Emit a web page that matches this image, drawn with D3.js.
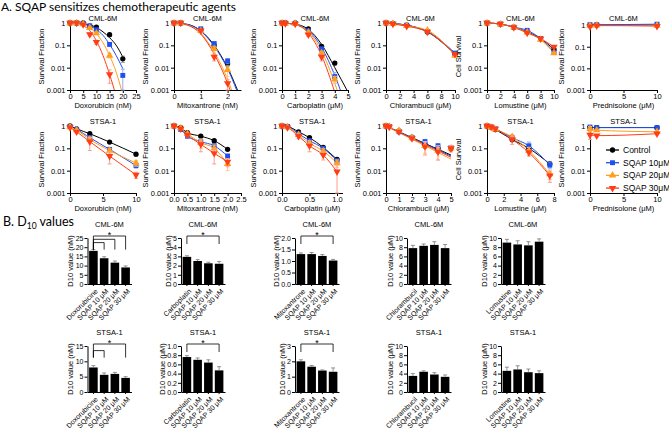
<!DOCTYPE html>
<html>
<head>
<meta charset="utf-8">
<script src="https://cdn.jsdelivr.net/npm/d3@7"></script>
<style>
body { margin: 0; background: #fff; }
svg text { font-family: "Liberation Sans", Arial, sans-serif; fill: #000; }
</style>
</head>
<body>
<svg id="fig" width="669" height="434"></svg>
<script>
// ---- series shared by the survival plots
var seriesNames = ["Control", "SQAP 10μM", "SQAP 20μM", "SQAP 30μM"];

// ---- CML-6M survival fractions (rows: Control, SQAP 10, 20, 30)
var doxCmlDose = [0, 2.5, 5, 7.5, 10, 15, 20];
var doxCmlSurv = [
    [1, 1, 1, 0.72, 0.66, 0.3, 0.025],
    [1, 1, 0.95, 0.75, 0.5, 0.11, 0.0045],
    [1, 1, 0.9, 0.6, 0.35, 0.035, null],
    [1, 1, 0.85, 0.31, 0.14, 0.005, null]];
var doxCmlErr = [
    [0, 0, 0, 0.08, 0.08, 0.05, 0.008],
    [0, 0, 0, 0.05, 0.05, 0.02, 0.004],
    [0, 0, 0, 0.05, 0.05, 0.008, 0],
    [0, 0, 0, 0.05, 0.03, 0.003, 0]];
var doxCmlFitDose = [0, 2.5, 5, 7.5, 10, 12.5, 15, 17.5, 20];
var doxCmlFit = [
    [1, 0.98, 0.93, 0.81, 0.63, 0.4, 0.22, 0.1, 0.03],
    [1, 0.97, 0.89, 0.74, 0.5, 0.28, 0.11, 0.035, 0.009],
    [1, 0.95, 0.85, 0.63, 0.33, 0.13, 0.035, 0.0063, 0.0006],
    [1, 0.93, 0.76, 0.45, 0.16, 0.035, 0.005, 0.0005, 0.00003]];

var mitoCmlDose = [0, 0.25, 1, 1.5, 2];
var mitoCmlSurv = [
    [1, 1, 0.5, 0.1, 0.015],
    [1, 1, 0.55, 0.12, 0.02],
    [1, 1, 0.45, 0.07, 0.008],
    [1, 1, 0.45, 0.03, 0.002]];
var mitoCmlErr = [
    [0, 0, 0.05, 0.02, 0.004],
    [0, 0, 0.05, 0.02, 0.005],
    [0, 0, 0.05, 0.02, 0.004],
    [0, 0, 0.05, 0.01, 0.001]];
var mitoCmlFitDose = [0, 0.5, 1, 1.5, 2, 2.5];
var mitoCmlFit = [
    [1, 0.87, 0.45, 0.1, 0.01, 0.0004],
    [1, 0.86, 0.43, 0.09, 0.009, 0.0003],
    [1, 0.82, 0.35, 0.05, 0.003, 0.00005],
    [1, 0.8, 0.32, 0.04, 0.002, 0.00003]];

var carboCmlDose = [0, 0.25, 1, 2, 3, 4];
var carboCmlSurv = [
    [1, 1, 1, 0.55, 0.09, 0.016],
    [1, 1, 0.95, 0.45, 0.07, 0.004],
    [1, 0.95, 0.95, 0.38, 0.045, 0.003],
    [1, 0.95, 0.9, 0.3, 0.03, null]];
var carboCmlErr = [
    [0, 0, 0, 0.05, 0.01, 0.003],
    [0, 0, 0, 0.05, 0.01, 0.002],
    [0, 0, 0, 0.05, 0.01, 0.001],
    [0, 0, 0, 0.05, 0.01, 0]];
var carboCmlFitDose = [0, 1, 2, 3, 4, 5];
var carboCmlFit = [
    [1, 0.89, 0.52, 0.11, 0.01, 0.0008],
    [1, 0.87, 0.45, 0.08, 0.0045, 0.0001],
    [1, 0.86, 0.4, 0.055, 0.002, 0.00003],
    [1, 0.85, 0.35, 0.035, 0.0008, 0.00001]];

var chlorCmlDose = [0, 1, 3, 6, 10];
var chlorCmlSurv = [
    [1, 0.95, 0.8, 0.4, 0.04],
    [1, 0.95, 0.8, 0.42, 0.045],
    [1, 0.95, 0.75, 0.47, 0.035],
    [1, 0.9, 0.72, 0.4, 0.04]];

var lomuCmlDose = [0, 2, 4, 6, 8, 10];
var lomuCmlSurv = [
    [1, 0.9, 0.65, 0.4, 0.2, 0.065],
    [1, 0.9, 0.65, 0.47, 0.2, 0.05],
    [1, 0.88, 0.65, 0.38, 0.18, 0.045],
    [1, 0.9, 0.63, 0.36, 0.2, 0.085]];

var predCmlDose = [0, 1, 10];
var predCmlSurv = [
    [1, 1, 1],
    [1.05, 1.05, 1.1],
    [0.95, 0.97, 0.95],
    [0.85, 0.95, 0.9]];

// ---- STSA-1 survival fractions
var doxStDose = [0, 1, 3, 6, 10];
var doxStSurv = [
    [1, 0.75, 0.45, 0.19, 0.055],
    [0.95, 0.7, 0.3, 0.09, 0.017],
    [0.9, 0.65, 0.25, 0.08, 0.022],
    [0.85, 0.55, 0.2, 0.045, 0.0065]];
var doxStErr = [
    [0, 0.05, 0.05, 0.02, 0.01],
    [0, 0.05, 0.05, 0.01, 0.004],
    [0, 0.05, 0.06, 0.02, 0.006],
    [0, 0.08, 0.12, 0.025, 0.002]];

var mitoStDose = [0, 0.25, 0.5, 1, 1.5, 2];
var mitoStSurv = [
    [1, 0.85, 0.5, 0.35, 0.22, 0.09],
    [1, 0.7, 0.35, 0.2, 0.13, 0.045],
    [1, 0.8, 0.45, 0.18, 0.1, 0.02],
    [1, 0.75, 0.4, 0.15, 0.06, 0.025]];
var mitoStErr = [
    [0, 0.05, 0.05, 0.05, 0.03, 0.01],
    [0, 0.05, 0.05, 0.05, 0.03, 0.01],
    [0, 0.05, 0.08, 0.08, 0.04, 0.01],
    [0, 0.05, 0.08, 0.08, 0.04, 0.01]];

var carboStDose = [0, 0.1, 0.3, 0.5, 0.75, 1];
var carboStSurv = [
    [1, 0.95, 0.55, 0.3, 0.11, 0.032],
    [1, 0.95, 0.45, 0.22, 0.1, 0.028],
    [1, 0.9, 0.4, 0.17, 0.075, 0.022],
    [1, 0.85, 0.35, 0.13, 0.05, 0.009]];
var carboStErr = [
    [0, 0, 0.05, 0.03, 0.01, 0.004],
    [0, 0, 0.05, 0.03, 0.01, 0.004],
    [0, 0.05, 0.05, 0.05, 0.02, 0.008],
    [0, 0.05, 0.08, 0.06, 0.02, 0.009]];

var chlorStDose = [0, 0.25, 1, 2, 3, 4, 5];
var chlorStSurv = [
    [1, 0.95, 0.6, 0.32, 0.15, 0.1, 0.1],
    [1, 0.95, 0.55, 0.3, 0.2, 0.13, 0.11],
    [1, 0.95, 0.62, 0.3, 0.13, 0.08, 0.1],
    [1, 0.9, 0.55, 0.28, 0.12, 0.07, 0.1]];
var chlorStErr = [
    [0, 0, 0.05, 0.05, 0.05, 0.04, 0.02],
    [0, 0, 0.05, 0.05, 0.05, 0.03, 0.02],
    [0, 0, 0.05, 0.05, 0.07, 0.05, 0.03],
    [0, 0, 0.05, 0.05, 0.07, 0.04, 0.03]];
var chlorStFitDose = [0, 5];
var chlorStFit = [
    [1, 0.05],
    [1, 0.045],
    [1, 0.033],
    [1, 0.04]];

var lomuStDose = [0, 0.5, 1, 3, 5, 7.5];
var lomuStSurv = [
    [1, 0.9, 0.7, 0.25, 0.1, 0.02],
    [1, 0.9, 0.75, 0.3, 0.13, 0.018],
    [1, 0.85, 0.7, 0.33, 0.08, 0.007],
    [1, 0.9, 0.75, 0.25, 0.065, 0.006]];
var lomuStErr = [
    [0, 0, 0.05, 0.05, 0.02, 0.006],
    [0, 0, 0.05, 0.08, 0.06, 0.006],
    [0, 0, 0.05, 0.08, 0.03, 0.003],
    [0, 0, 0.05, 0.1, 0.02, 0.003]];

var predStDose = [0, 1, 10];
var predStSurv = [
    [0.85, 0.85, 0.85],
    [0.9, 0.85, 0.85],
    [0.75, 0.65, 0.55],
    [0.4, 0.37, 0.45]];
var predStErr = [
    [0, 0, 0],
    [0.1, 0, 0.05],
    [0.2, 0.05, 0.05],
    [0.15, 0.05, 0.05]];

// ---- D10 values (bars)
var sqapCats = ["SQAP 10 μM", "SQAP 20 μM", "SQAP 30 μM"];
var d10DoxCml = [18, 14, 11.6, 9];
var d10DoxCmlErr = [0.7, 0.8, 0.9, 0.8];
var d10CarboCml = [2.95, 2.5, 2.25, 2.2];
var d10CarboCmlErr = [0.12, 0.15, 0.12, 0.25];
var d10MitoCml = [1.3, 1.3, 1.22, 1.02];
var d10MitoCmlErr = [0.05, 0.07, 0.06, 0.05];
var d10ChlorCml = [7.8, 8.3, 8.5, 7.8];
var d10ChlorCmlErr = [0.6, 0.4, 0.7, 0.8];
var d10LomuCml = [9.0, 8.6, 8.4, 9.2];
var d10LomuCmlErr = [0.7, 0.8, 0.8, 0.6];

var d10DoxSt = [8.0, 5.6, 5.9, 4.6];
var d10DoxStErr = [0.6, 0.6, 0.5, 0.4];
var d10CarboSt = [0.76, 0.7, 0.64, 0.47];
var d10CarboStErr = [0.03, 0.04, 0.06, 0.08];
var d10MitoSt = [2.0, 1.65, 1.4, 1.32];
var d10MitoStErr = [0.1, 0.08, 0.04, 0.25];
var d10ChlorSt = [3.5, 4.4, 3.8, 3.3];
var d10ChlorStErr = [0.5, 0.2, 0.4, 0.4];
var d10LomuSt = [4.6, 4.9, 4.3, 4.1];
var d10LomuStErr = [0.8, 0.8, 0.7, 0.5];

// significance brackets: [from bar, to bar, level]
var sigDoxCml = [[0, 3, 0], [0, 2, 1], [0, 1, 2]];
var sigCarboCml = [[0, 3, 0]];
var sigMitoCml = [[0, 3, 0]];
var sigDoxSt = [[0, 3, 0], [0, 1, 2]];
var sigCarboSt = [[0, 3, 0]];
var sigMitoSt = [[0, 3, 0]];

// ---- styles
var colors = ["#000000", "#1f4ff0", "#ff9d1c", "#ff3d16"];
var errColors = ["#9c9c9c", "#93aaf5", "#ffcc88", "#ff9e8c"];
var symbols = [d3.symbolCircle, d3.symbolSquare, d3.symbolTriangle, d3.symbolTriangle];
var symbolSize = [22, 24, 24, 24];
var symbolRot = [0, 0, 0, 180];

var svg = d3.select("#fig");
svg.append("rect").attr("width", 669).attr("height", 434).attr("fill", "#fff");

svg.append("text")
    .attr("x", 1).attr("y", 11)
    .style("font-family", "Lato").style("font-size", "12px")
    .text("A. SQAP sensitizes chemotherapeutic agents");

var bHead = svg.append("text")
    .attr("x", 3).attr("y", 226)
    .style("font-family", "Lato").style("font-size", "12.5px");
bHead.append("tspan").text("B. D");
bHead.append("tspan").attr("dy", 3).style("font-size", "8.5px").text("10");
bHead.append("tspan").attr("dy", -3).text(" values");

// survival panels layout
var colX = [70, 174, 282, 386, 487, 590];
var colW = [66, 67, 66, 69, 67, 67];
var rowTop = [23, 126];
var rowBottom = [90, 193];
var clipId = 0;

function drawSurvival(p) {
    var x0 = colX[p.col], w = p.w || colW[p.col];
    var top = rowTop[p.row], bottom = rowBottom[p.row];
    var g = svg.append("g");
    var x = d3.scaleLinear().domain([0, p.xMax]).range([x0, x0 + w]);
    var y = d3.scaleLog().domain([0.001, p.yMax || 1]).range([bottom, top]);

    var xAxis = g.append("g").attr("transform", "translate(0," + bottom + ")")
        .call(d3.axisBottom(x).tickValues(p.xTicks).tickSize(3).tickSizeOuter(0)
            .tickFormat(p.xFormat ? d3.format(p.xFormat) : d3.format("d")));
    var yAxis = g.append("g").attr("transform", "translate(" + x0 + ",0)")
        .call(d3.axisLeft(y).tickValues([1, 0.1, 0.01, 0.001]).tickSize(3).tickSizeOuter(0)
            .tickFormat(function (d) { return String(d); }));
    [xAxis, yAxis].forEach(function (a) {
        a.selectAll("text").style("font-size", "7.5px").attr("fill", "#000");
        a.selectAll("line,path").attr("stroke", "#000");
        a.select(".domain").attr("stroke-width", 1);
    });
    xAxis.selectAll("text").attr("dy", "0.6em").attr("y", 4);
    yAxis.selectAll("text").attr("x", -4.5);

    g.append("text").attr("x", x0 + w / 2).attr("y", top - 2.5)
        .attr("text-anchor", "middle").style("font-size", "7.5px").text(p.title);
    g.append("text").attr("x", x0 + w / 2).attr("y", bottom + 18)
        .attr("text-anchor", "middle").style("font-size", "7.5px").text(p.xlabel);
    var bb = yAxis.node().getBBox();
    g.append("text")
        .attr("transform", "translate(" + (x0 + bb.x - 2.5) + "," + (top + bottom) / 2 + ") rotate(-90)")
        .attr("text-anchor", "middle").style("font-size", "7.5px")
        .text(p.ylabel || "Survival Fraction");

    clipId++;
    svg.append("clipPath").attr("id", "clip" + clipId)
        .append("rect").attr("x", x0).attr("y", top - 6).attr("width", w + 2).attr("height", bottom - top + 6);
    var plot = g.append("g").attr("clip-path", "url(#clip" + clipId + ")");
    var line = d3.line()
        .defined(function (d) { return d[1] != null && d[1] > 0; })
        .x(function (d) { return x(d[0]); })
        .y(function (d) { return y(d[1]); })
        .curve(d3.curveMonotoneX);

    p.surv.forEach(function (vals, s) {
        // error bars
        if (p.err) {
            vals.forEach(function (v, i) {
                var e = p.err[s][i];
                if (v == null || !e) return;
                var hi = y(v + e), lo = y(Math.max(v - e, 0.001));
                var cx = x(p.dose[i]);
                g.append("path")
                    .attr("d", "M" + cx + "," + hi + "V" + lo + "M" + (cx - 2) + "," + hi + "H" + (cx + 2) +
                        "M" + (cx - 2) + "," + lo + "H" + (cx + 2))
                    .attr("stroke", errColors[s]).attr("stroke-width", 1).attr("fill", "none");
            });
        }
        // curve: fit if present, otherwise through the points
        var pts = p.fit
            ? p.fitDose.map(function (d, i) { return [d, p.fit[s][i]]; })
            : p.dose.map(function (d, i) { return [d, vals[i]]; });
        plot.append("path").attr("d", line(pts))
            .attr("fill", "none").attr("stroke", colors[s]).attr("stroke-width", 1);
        // markers
        vals.forEach(function (v, i) {
            if (v == null || v < 0.001) return;
            g.append("path")
                .attr("d", d3.symbol().type(symbols[s]).size(symbolSize[s])())
                .attr("transform", "translate(" + x(p.dose[i]) + "," + y(v) + ") rotate(" + symbolRot[s] + ")")
                .attr("fill", colors[s]);
        });
    });
}

var survPanels = [
    {row: 0, col: 0, title: "CML-6M", xlabel: "Doxorubicin (nM)", xMax: 25, xTicks: [0, 5, 10, 15, 20, 25],
        dose: doxCmlDose, surv: doxCmlSurv, err: doxCmlErr, fitDose: doxCmlFitDose, fit: doxCmlFit},
    {row: 0, col: 1, title: "CML-6M", xlabel: "Mitoxantrone (nM)", xMax: 2.5, xTicks: [0, 1, 2],
        dose: mitoCmlDose, surv: mitoCmlSurv, err: mitoCmlErr, fitDose: mitoCmlFitDose, fit: mitoCmlFit},
    {row: 0, col: 2, title: "CML-6M", xlabel: "Carboplatin (μM)", xMax: 5, xTicks: [0, 1, 2, 3, 4, 5],
        dose: carboCmlDose, surv: carboCmlSurv, err: carboCmlErr, fitDose: carboCmlFitDose, fit: carboCmlFit},
    {row: 0, col: 3, title: "CML-6M", xlabel: "Chlorambucil (μM)", xMax: 10, xTicks: [0, 2, 4, 6, 8, 10],
        dose: chlorCmlDose, surv: chlorCmlSurv},
    {row: 0, col: 4, title: "CML-6M", xlabel: "Lomustine (μM)", ylabel: "Cell Survival", xMax: 10, xTicks: [0, 2, 4, 6, 8, 10],
        dose: lomuCmlDose, surv: lomuCmlSurv},
    {row: 0, col: 5, title: "CML-6M", xlabel: "Prednisolone (μM)", xMax: 10, xTicks: [0, 5, 10], yMax: 1.25,
        dose: predCmlDose, surv: predCmlSurv},
    {row: 1, col: 0, title: "STSA-1", xlabel: "Doxorubicin (nM)", xMax: 10, xTicks: [0, 5, 10],
        dose: doxStDose, surv: doxStSurv, err: doxStErr},
    {row: 1, col: 1, title: "STSA-1", xlabel: "Mitoxantrone (nM)", xMax: 2.5, xTicks: [0, 0.5, 1, 1.5, 2, 2.5], xFormat: ".1f",
        dose: mitoStDose, surv: mitoStSurv, err: mitoStErr},
    {row: 1, col: 2, title: "STSA-1", xlabel: "Carboplatin (μM)", xMax: 1.1, xTicks: [0, 0.5, 1], xFormat: ".1f", w: 60.5,
        dose: carboStDose, surv: carboStSurv, err: carboStErr},
    {row: 1, col: 3, title: "STSA-1", xlabel: "Chlorambucil (μM)", xMax: 5, xTicks: [0, 1, 2, 3, 4, 5], w: 65,
        dose: chlorStDose, surv: chlorStSurv, err: chlorStErr, fitDose: chlorStFitDose, fit: chlorStFit},
    {row: 1, col: 4, title: "STSA-1", xlabel: "Lomustine (μM)", ylabel: "Cell Survival", xMax: 8, xTicks: [0, 2, 4, 6, 8],
        dose: lomuStDose, surv: lomuStSurv, err: lomuStErr},
    {row: 1, col: 5, title: "STSA-1", xlabel: "Prednisolone (μM)", xMax: 10, xTicks: [0, 5, 10],
        dose: predStDose, surv: predStSurv, err: predStErr}
];
survPanels.forEach(drawSurvival);

// legend inside the last panel
var legend = svg.append("g");
seriesNames.forEach(function (name, s) {
    var ly = 150 + s * 12.7;
    legend.append("line").attr("x1", 606).attr("x2", 619).attr("y1", ly).attr("y2", ly)
        .attr("stroke", colors[s]).attr("stroke-width", 1.3);
    legend.append("path")
        .attr("d", d3.symbol().type(symbols[s]).size(symbolSize[s])())
        .attr("transform", "translate(612.5," + ly + ") rotate(" + symbolRot[s] + ")")
        .attr("fill", colors[s]);
    legend.append("text").attr("x", 623).attr("y", ly + 3)
        .style("font-size", "8.5px").text(name);
});

// ---- bar panels
var barColX = [87.5, 181, 295, 407, 501];
var barRowTop = [238, 346];
var barRowZero = [284, 392];

function drawBars(p) {
    var x0 = barColX[p.col];
    var top = barRowTop[p.row], zero = barRowZero[p.row];
    var g = svg.append("g");
    var cats = [p.drug].concat(sqapCats);
    var x = d3.scaleBand().domain(cats).range([x0, x0 + 44]).paddingInner(0.2).paddingOuter(0.15);
    var y = d3.scaleLinear().domain([0, p.yMax]).range([zero, top]);

    g.selectAll("rect.bar").data(p.values).enter().append("rect")
        .attr("x", function (d, i) { return x(cats[i]); })
        .attr("y", function (d) { return y(d); })
        .attr("width", x.bandwidth())
        .attr("height", function (d) { return zero - y(d); })
        .attr("fill", "#000");
    // error bars above the bars
    g.selectAll("path.err").data(p.values).enter().append("path")
        .attr("d", function (d, i) {
            var cx = x(cats[i]) + x.bandwidth() / 2;
            var hi = y(d + p.errs[i]);
            return "M" + cx + "," + y(d) + "V" + hi + "M" + (cx - 2) + "," + hi + "H" + (cx + 2);
        })
        .attr("stroke", "#777").attr("stroke-width", 0.8).attr("fill", "none");

    var yAxis = g.append("g").attr("transform", "translate(" + x0 + ",0)")
        .call(d3.axisLeft(y).tickValues(p.yTicks).tickSize(3).tickSizeOuter(0)
            .tickFormat(d3.format(p.yFormat || "d")));
    var xAxis = g.append("g").attr("transform", "translate(0," + zero + ")")
        .call(d3.axisBottom(x).tickSize(2).tickSizeOuter(0));
    [xAxis, yAxis].forEach(function (a) {
        a.selectAll("text").style("font-size", "7px").attr("fill", "#000");
        a.selectAll("line,path").attr("stroke", "#000");
    });
    yAxis.selectAll("text").attr("x", -4);
    xAxis.selectAll("text")
        .attr("x", 0).attr("y", 0).attr("dy", "0.35em")
        .attr("transform", "translate(3,6) rotate(-45)")
        .style("text-anchor", "end");

    g.append("text").attr("x", x0 + 22).attr("y", top - 11)
        .attr("text-anchor", "middle").style("font-size", "7.5px").text(p.title);
    var bb = yAxis.node().getBBox();
    g.append("text")
        .attr("transform", "translate(" + (x0 + bb.x - 2.5) + "," + (top + zero) / 2 + ") rotate(-90)")
        .attr("text-anchor", "middle").style("font-size", "7.5px").text(p.ylabel);

    // significance brackets
    if (p.sig) {
        var base = top - 2, step = 3.3;
        var lowest = d3.max(p.sig, function (s) { return base + s[2] * step; });
        var legEnd = p.sig.length > 1 ? lowest + 7 : base + 8;
        p.sig.forEach(function (s) {
            var xa = x(cats[s[0]]) + x.bandwidth() / 2;
            var xb = x(cats[s[1]]) + x.bandwidth() / 2;
            var ly = base + s[2] * step;
            g.append("path")
                .attr("d", "M" + xa + "," + legEnd + "V" + ly + "H" + xb + "V" + legEnd)
                .attr("stroke", "#000").attr("stroke-width", 0.8).attr("fill", "none");
            if (s[2] == 0) {
                g.append("text").attr("x", (xa + xb) / 2).attr("y", ly + 1.5)
                    .attr("text-anchor", "middle").style("font-size", "9px").text("*");
            }
        });
    }
}

var barPanels = [
    {row: 0, col: 0, title: "CML-6M", drug: "Doxorubicine", ylabel: "D10 value (nM)", yMax: 25, yTicks: [0, 5, 10, 15, 20, 25],
        values: d10DoxCml, errs: d10DoxCmlErr, sig: sigDoxCml},
    {row: 0, col: 1, title: "CML-6M", drug: "Carboplatin", ylabel: "D10 value (μM)", yMax: 5, yTicks: [0, 1, 2, 3, 4, 5],
        values: d10CarboCml, errs: d10CarboCmlErr, sig: sigCarboCml},
    {row: 0, col: 2, title: "CML-6M", drug: "Mitoxantrone", ylabel: "D10 value (nM)", yMax: 2, yTicks: [0, 0.5, 1, 1.5, 2], yFormat: ".1f",
        values: d10MitoCml, errs: d10MitoCmlErr, sig: sigMitoCml},
    {row: 0, col: 3, title: "CML-6M", drug: "Chlorambucil", ylabel: "D10 value (μM)", yMax: 10, yTicks: [0, 2, 4, 6, 8, 10],
        values: d10ChlorCml, errs: d10ChlorCmlErr},
    {row: 0, col: 4, title: "CML-6M", drug: "Lomustine", ylabel: "D10 value (μM)", yMax: 10, yTicks: [0, 2, 4, 6, 8, 10],
        values: d10LomuCml, errs: d10LomuCmlErr},
    {row: 1, col: 0, title: "STSA-1", drug: "Doxorubicine", ylabel: "D10 value (nM)", yMax: 15, yTicks: [0, 5, 10, 15],
        values: d10DoxSt, errs: d10DoxStErr, sig: sigDoxSt},
    {row: 1, col: 1, title: "STSA-1", drug: "Carboplatin", ylabel: "D10 value (μM)", yMax: 1, yTicks: [0, 0.2, 0.4, 0.6, 0.8, 1], yFormat: ".1f",
        values: d10CarboSt, errs: d10CarboStErr, sig: sigCarboSt},
    {row: 1, col: 2, title: "STSA-1", drug: "Mitoxantrone", ylabel: "D10 value (nM)", yMax: 3, yTicks: [0, 1, 2, 3],
        values: d10MitoSt, errs: d10MitoStErr, sig: sigMitoSt},
    {row: 1, col: 3, title: "STSA-1", drug: "Chlorambucil", ylabel: "D10 value (μM)", yMax: 10, yTicks: [0, 2, 4, 6, 8, 10],
        values: d10ChlorSt, errs: d10ChlorStErr},
    {row: 1, col: 4, title: "STSA-1", drug: "Lomustine", ylabel: "D10 value (μM)", yMax: 10, yTicks: [0, 2, 4, 6, 8, 10],
        values: d10LomuSt, errs: d10LomuStErr}
];
barPanels.forEach(drawBars);
</script>
</body>
</html>
